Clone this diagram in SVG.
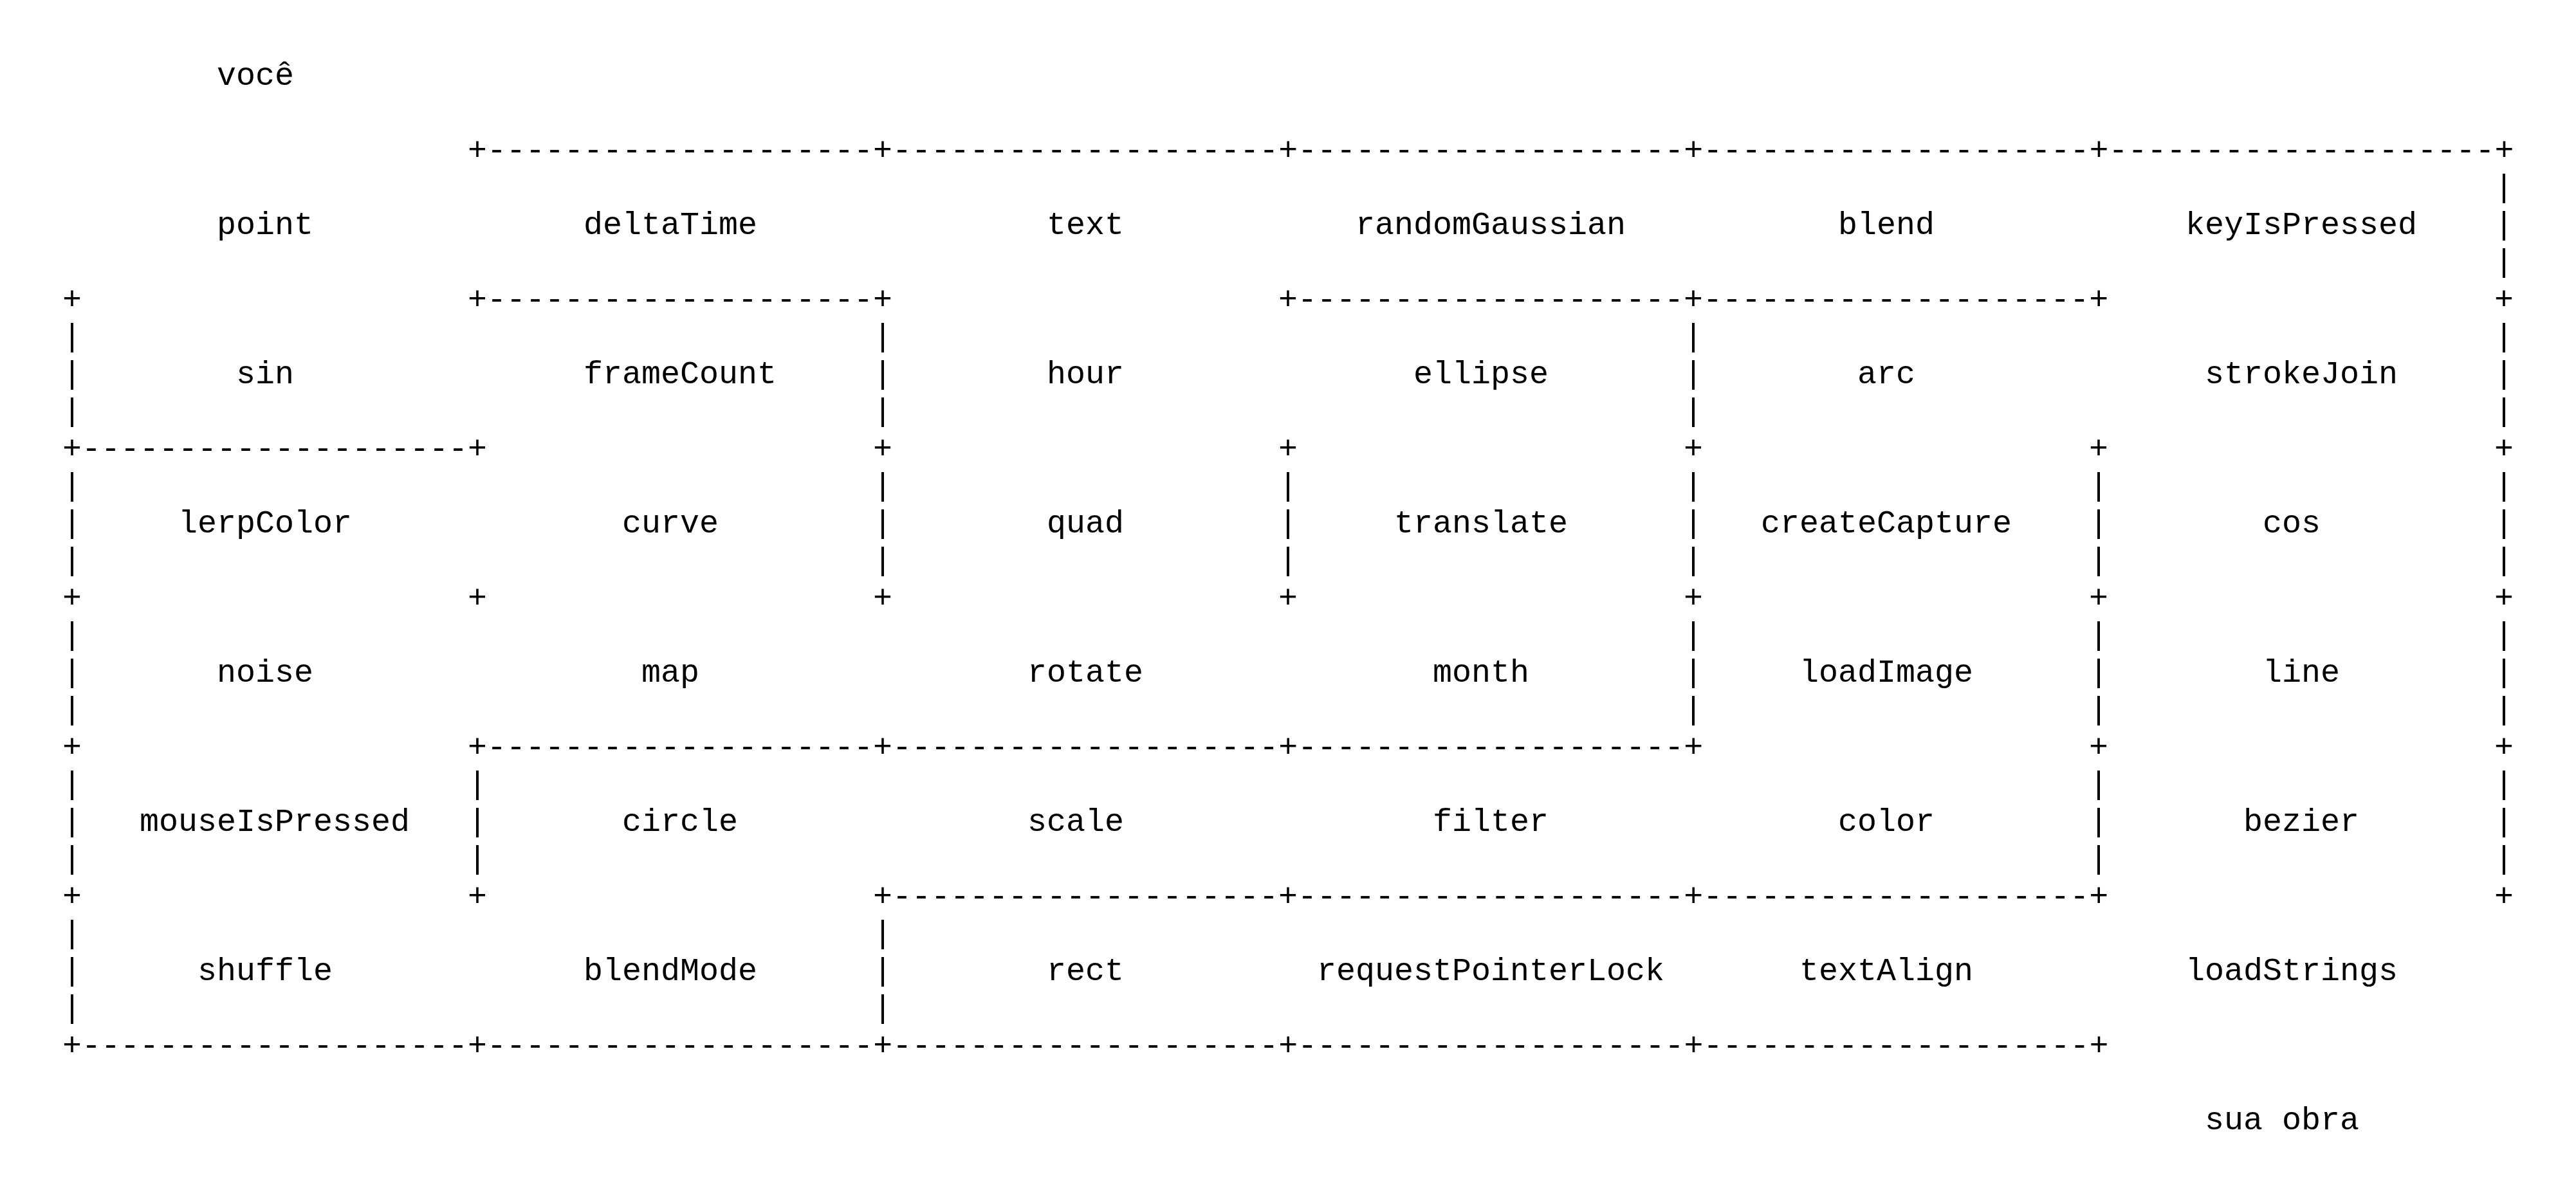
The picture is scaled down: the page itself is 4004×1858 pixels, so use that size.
<svg xmlns="http://www.w3.org/2000/svg" width="4004" height="1858" viewBox="0 0 4004 1858">
<style>
  text { font-family: "Liberation Mono", "Courier New", "DejaVu Sans Mono", monospace; font-size: 50px; fill: #000; white-space: pre; }
</style>
<rect x="0" y="0" width="4004" height="1858" fill="#fff"/>
<g id="walls">
  <text y="248"><tspan x="727">+--------------------+--------------------+--------------------+--------------------+--------------------+</tspan></text>
  <text y="306"><tspan x="3877">|</tspan></text>
  <text y="364"><tspan x="3877">|</tspan></text>
  <text y="422"><tspan x="3877">|</tspan></text>
  <text y="480"><tspan x="97">+</tspan><tspan x="727">+--------------------+</tspan><tspan x="1987">+--------------------+--------------------+</tspan><tspan x="3877">+</tspan></text>
  <text y="538"><tspan x="97">|</tspan><tspan x="1357">|</tspan><tspan x="2617">|</tspan><tspan x="3877">|</tspan></text>
  <text y="596"><tspan x="97">|</tspan><tspan x="1357">|</tspan><tspan x="2617">|</tspan><tspan x="3877">|</tspan></text>
  <text y="654"><tspan x="97">|</tspan><tspan x="1357">|</tspan><tspan x="2617">|</tspan><tspan x="3877">|</tspan></text>
  <text y="712"><tspan x="97">+--------------------+</tspan><tspan x="1357">+</tspan><tspan x="1987">+</tspan><tspan x="2617">+</tspan><tspan x="3247">+</tspan><tspan x="3877">+</tspan></text>
  <text y="770"><tspan x="97">|</tspan><tspan x="1357">|</tspan><tspan x="1987">|</tspan><tspan x="2617">|</tspan><tspan x="3247">|</tspan><tspan x="3877">|</tspan></text>
  <text y="828"><tspan x="97">|</tspan><tspan x="1357">|</tspan><tspan x="1987">|</tspan><tspan x="2617">|</tspan><tspan x="3247">|</tspan><tspan x="3877">|</tspan></text>
  <text y="886"><tspan x="97">|</tspan><tspan x="1357">|</tspan><tspan x="1987">|</tspan><tspan x="2617">|</tspan><tspan x="3247">|</tspan><tspan x="3877">|</tspan></text>
  <text y="944"><tspan x="97">+</tspan><tspan x="727">+</tspan><tspan x="1357">+</tspan><tspan x="1987">+</tspan><tspan x="2617">+</tspan><tspan x="3247">+</tspan><tspan x="3877">+</tspan></text>
  <text y="1002"><tspan x="97">|</tspan><tspan x="2617">|</tspan><tspan x="3247">|</tspan><tspan x="3877">|</tspan></text>
  <text y="1060"><tspan x="97">|</tspan><tspan x="2617">|</tspan><tspan x="3247">|</tspan><tspan x="3877">|</tspan></text>
  <text y="1118"><tspan x="97">|</tspan><tspan x="2617">|</tspan><tspan x="3247">|</tspan><tspan x="3877">|</tspan></text>
  <text y="1176"><tspan x="97">+</tspan><tspan x="727">+--------------------+--------------------+--------------------+</tspan><tspan x="3247">+</tspan><tspan x="3877">+</tspan></text>
  <text y="1234"><tspan x="97">|</tspan><tspan x="727">|</tspan><tspan x="3247">|</tspan><tspan x="3877">|</tspan></text>
  <text y="1292"><tspan x="97">|</tspan><tspan x="727">|</tspan><tspan x="3247">|</tspan><tspan x="3877">|</tspan></text>
  <text y="1350"><tspan x="97">|</tspan><tspan x="727">|</tspan><tspan x="3247">|</tspan><tspan x="3877">|</tspan></text>
  <text y="1408"><tspan x="97">+</tspan><tspan x="727">+</tspan><tspan x="1357">+--------------------+--------------------+--------------------+</tspan><tspan x="3877">+</tspan></text>
  <text y="1466"><tspan x="97">|</tspan><tspan x="1357">|</tspan></text>
  <text y="1524"><tspan x="97">|</tspan><tspan x="1357">|</tspan></text>
  <text y="1582"><tspan x="97">|</tspan><tspan x="1357">|</tspan></text>
  <text y="1640"><tspan x="97">+--------------------+--------------------+--------------------+--------------------+--------------------+</tspan></text>
</g>
<g id="start"><text x="337" y="132">você</text></g>
<g id="end"><text x="3427" y="1756">sua obra</text></g>
<g id="n-point"><text x="337" y="364">point</text></g>
<g id="n-deltaTime"><text x="907" y="364">deltaTime</text></g>
<g id="n-text"><text x="1627" y="364">text</text></g>
<g id="n-randomGaussian"><text x="2107" y="364">randomGaussian</text></g>
<g id="n-blend"><text x="2857" y="364">blend</text></g>
<g id="n-keyIsPressed"><text x="3397" y="364">keyIsPressed</text></g>
<g id="n-sin"><text x="367" y="596">sin</text></g>
<g id="n-frameCount"><text x="907" y="596">frameCount</text></g>
<g id="n-hour"><text x="1627" y="596">hour</text></g>
<g id="n-ellipse"><text x="2197" y="596">ellipse</text></g>
<g id="n-arc"><text x="2887" y="596">arc</text></g>
<g id="n-strokeJoin"><text x="3427" y="596">strokeJoin</text></g>
<g id="n-lerpColor"><text x="277" y="828">lerpColor</text></g>
<g id="n-curve"><text x="967" y="828">curve</text></g>
<g id="n-quad"><text x="1627" y="828">quad</text></g>
<g id="n-translate"><text x="2167" y="828">translate</text></g>
<g id="n-createCapture"><text x="2737" y="828">createCapture</text></g>
<g id="n-cos"><text x="3517" y="828">cos</text></g>
<g id="n-noise"><text x="337" y="1060">noise</text></g>
<g id="n-map"><text x="997" y="1060">map</text></g>
<g id="n-rotate"><text x="1597" y="1060">rotate</text></g>
<g id="n-month"><text x="2227" y="1060">month</text></g>
<g id="n-loadImage"><text x="2797" y="1060">loadImage</text></g>
<g id="n-line"><text x="3517" y="1060">line</text></g>
<g id="n-mouseIsPressed"><text x="217" y="1292">mouseIsPressed</text></g>
<g id="n-circle"><text x="967" y="1292">circle</text></g>
<g id="n-scale"><text x="1597" y="1292">scale</text></g>
<g id="n-filter"><text x="2227" y="1292">filter</text></g>
<g id="n-color"><text x="2857" y="1292">color</text></g>
<g id="n-bezier"><text x="3487" y="1292">bezier</text></g>
<g id="n-shuffle"><text x="307" y="1524">shuffle</text></g>
<g id="n-blendMode"><text x="907" y="1524">blendMode</text></g>
<g id="n-rect"><text x="1627" y="1524">rect</text></g>
<g id="n-requestPointerLock"><text x="2047" y="1524">requestPointerLock</text></g>
<g id="n-textAlign"><text x="2797" y="1524">textAlign</text></g>
<g id="n-loadStrings"><text x="3397" y="1524">loadStrings</text></g>
</svg>
